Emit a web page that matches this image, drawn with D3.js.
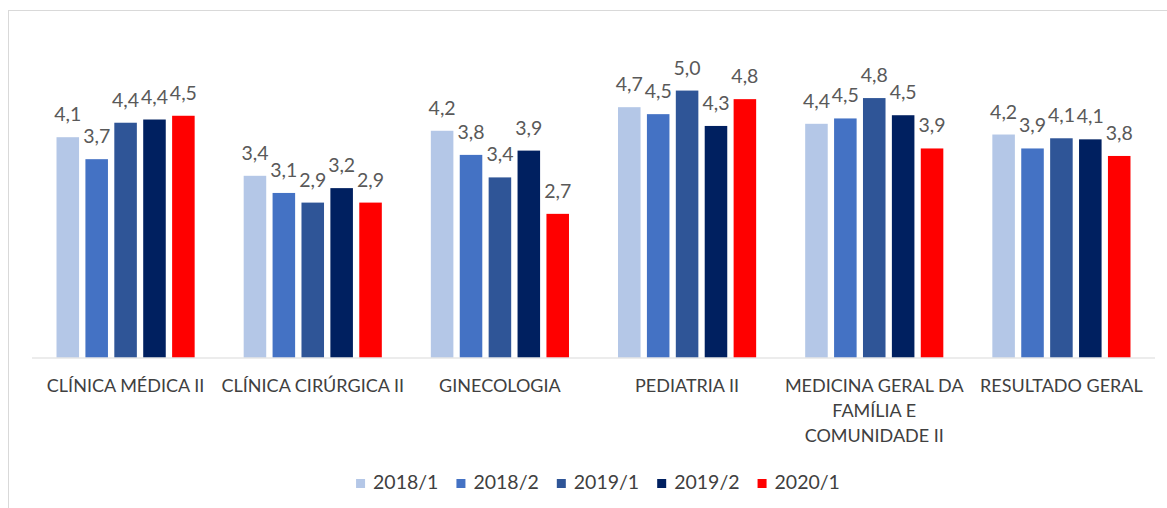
<!DOCTYPE html>
<html>
<head>
<meta charset="utf-8">
<script src="https://cdn.jsdelivr.net/npm/d3@7"></script>
<style>
  html, body { margin: 0; padding: 0; background: #fff; }
  svg { display: block; font-family: Lato, "Open Sans", sans-serif; }
</style>
</head>
<body>
<svg id="chart" width="1167" height="508"></svg>
<script>
// Categories (with the line breaks used under the axis):
const categories = ["CLÍNICA MÉDICA II", "CLÍNICA CIRÚRGICA II", "GINECOLOGIA", "PEDIATRIA II",
    "MEDICINA GERAL DA FAMÍLIA E COMUNIDADE II", "RESULTADO GERAL"];
const category_lines = [["CLÍNICA MÉDICA II"], ["CLÍNICA CIRÚRGICA II"], ["GINECOLOGIA"], ["PEDIATRIA II"],
    ["MEDICINA GERAL DA", "FAMÍLIA E", "COMUNIDADE II"], ["RESULTADO GERAL"]];

// Series:
const series = ["2018/1", "2018/2", "2019/1", "2019/2", "2020/1"];
const series_colors = ["#B4C7E7", "#4472C4", "#2F5597", "#002060", "#FF0000"];
const values_2018_1 = [4.11, 3.39, 4.23, 4.67, 4.36, 4.16];
const values_2018_2 = [3.70, 3.07, 3.78, 4.54, 4.46, 3.90];
const values_2019_1 = [4.38, 2.89, 3.36, 4.98, 4.84, 4.09];
const values_2019_2 = [4.44, 3.16, 3.86, 4.32, 4.52, 4.07];
const values_2020_1 = [4.51, 2.89, 2.68, 4.82, 3.90, 3.76];
const series_values = [values_2018_1, values_2018_2, values_2019_1, values_2019_2, values_2020_1];

const svg = d3.select("#chart");

// Chart frame:
svg.append("rect")
    .attr("x", 8.5).attr("y", 10.5)
    .attr("width", 1170).attr("height", 510)
    .attr("fill", "#fff").attr("stroke", "#d9d9d9");

// Scales:
const x0 = d3.scaleBand().domain(categories).range([32, 1155]);
const inset = (x0.bandwidth() - 5 * 28.9) / 2;
const x1 = d3.scaleBand().domain(series)
    .range([inset, x0.bandwidth() - inset])
    .paddingInner(0.22).paddingOuter(0.11);
const y = d3.scaleLinear().domain([0, 6]).range([357.5, 35.9]);

const fmt = (v) => d3.format(".1f")(v).replace(".", ",");

// Flatten into bar records:
const bars = [];
series.forEach((s, si) => {
    categories.forEach((c, ci) => {
        bars.push({ series: s, category: c, value: series_values[si][ci], color: series_colors[si] });
    });
});

const bar_layer = svg.append("g");
bar_layer.selectAll("rect")
    .data(bars).join("rect")
    .attr("x", (d) => x0(d.category) + x1(d.series))
    .attr("y", (d) => y(d.value))
    .attr("width", x1.bandwidth())
    .attr("height", (d) => y(0) - y(d.value))
    .attr("fill", (d) => d.color);

// Data labels:
bar_layer.selectAll("text")
    .data(bars).join("text")
    .attr("x", (d) => x0(d.category) + x1(d.series) + x1.bandwidth() / 2)
    .attr("y", (d) => y(d.value) - 16)
    .attr("text-anchor", "middle")
    .attr("font-size", 19.5)
    .attr("fill", "#595959")
    .text((d) => fmt(d.value));

// Baseline:
svg.append("line")
    .attr("x1", 32).attr("x2", 1155)
    .attr("y1", y(0) + 0.5).attr("y2", y(0) + 0.5)
    .attr("stroke", "#d9d9d9").attr("stroke-width", 1);

// Category labels:
const cat_layer = svg.append("g");
categories.forEach((c, ci) => {
    const t = cat_layer.append("text")
        .attr("text-anchor", "middle")
        .attr("font-size", 18)
        .attr("fill", "#404040");
    category_lines[ci].forEach((line, li) => {
        t.append("tspan")
            .attr("x", x0(c) + x0.bandwidth() / 2)
            .attr("y", 391.5 + li * 25)
            .text(line);
    });
});

// Legend:
const legend = svg.append("g");
const items = series.map((s, i) => {
    const g = legend.append("g");
    g.append("rect").attr("width", 9).attr("height", 9).attr("y", -10).attr("fill", series_colors[i]);
    const t = g.append("text").attr("x", 17).attr("font-size", 19.5).attr("fill", "#404040").text(s);
    return { g, w: 17 + t.node().getComputedTextLength() };
});
const legend_gap = 18;
const legend_w = d3.sum(items, (d) => d.w) + legend_gap * (items.length - 1);
let lx = 598 - legend_w / 2;
items.forEach((it) => {
    it.g.attr("transform", `translate(${lx},489)`);
    lx += it.w + legend_gap;
});
</script>
</body>
</html>
